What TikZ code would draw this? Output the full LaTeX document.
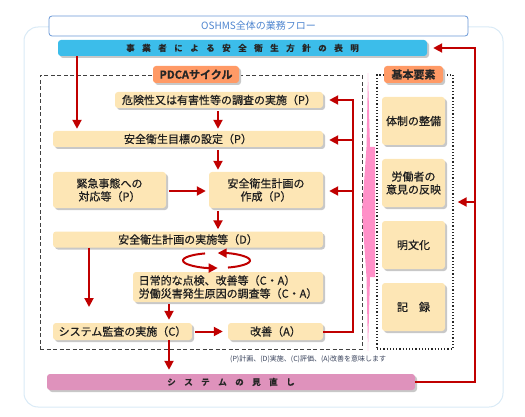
\documentclass[tikz,border=0pt]{standalone}
\usepackage{fontspec}
\setmainfont{Noto Sans CJK JP}
\newfontfamily\jpmed{Noto Sans CJK JP}[FakeBold=0.7]
\newfontfamily\jpbold{Noto Sans CJK JP Bold}[FakeBold=0.6]
\usetikzlibrary{arrows.meta,shadows,calc}
\definecolor{cream}{HTML}{FDE6B5}
\definecolor{darkred}{HTML}{C00000}
\definecolor{barblue}{HTML}{3CBDEA}
\definecolor{barpink}{HTML}{DF92BC}
\definecolor{tagorange}{HTML}{FF9A66}
\definecolor{pinkshape}{HTML}{FF90C8}
\definecolor{titleblue}{HTML}{4F86D0}
\definecolor{frameblue}{HTML}{D9EAF6}
\definecolor{shadowgray}{HTML}{C8C8C8}
\definecolor{notecol}{HTML}{37415A}
\newcommand\gapA{\kern7.5pt}
\newcommand\gapB{\kern8.5pt}
\begin{document}
\begin{tikzpicture}[x=1pt,y=-1pt,
  shad/.style={drop shadow={shadow xshift=2pt,shadow yshift=-2pt,fill=shadowgray,opacity=1}},
  box/.style={shad,fill=cream,rounded corners=3pt,inner sep=0pt,align=center,
    font=\fontsize{11}{13}\jpmed,text=black!88},
  bar/.style={shad,rounded corners=3pt,inner sep=0pt,minimum height=16pt,
    font=\fontsize{8.5}{10}\jpbold,text=black!85},
  tag/.style={shad,fill=tagorange,rounded corners=3pt,inner sep=0pt,minimum height=17pt,
    font=\fontsize{11}{13}\jpbold,text=black!85},
  arr/.style={draw=darkred,line width=2pt,-{Triangle[length=9pt,width=9pt]}},
  titlebox/.style={draw=titleblue!85,fill=white,rounded corners=3pt,line width=0.8pt,
    minimum width=419pt,minimum height=20pt,text=titleblue,font=\fontsize{10}{12}\selectfont},
  dashbox/.style={draw=black!75,dash pattern=on 4pt off 2.5pt,line width=0.8pt,inner sep=0pt},
  dotbox/.style={draw=black!85,dash pattern=on 1.2pt off 2pt,line width=1.3pt,inner sep=0pt},
  note/.style={font=\fontsize{7}{8}\selectfont,text=notecol,inner sep=0pt}
]
\useasboundingbox (0,0) rectangle (525,417);
% outer frame
\draw[frameblue,line width=1pt,rounded corners=14pt] (24,27) rectangle (503,407);
% title
\node[titlebox] (title) at (258.5,26) {OSHMS全体の業務フロー};
% group boxes
\node[dashbox,minimum width=322pt,minimum height=274pt] (pdca) at (201,212) {};
\node[dotbox,minimum width=76pt,minimum height=274pt] (elem) at (415,212) {};
% pink shape
\fill[pinkshape] (368,73) -- (370,147) -- (375,147) -- (375,277) -- (370,277) -- (368,351)
  -- (366.5,277) -- (362,212) -- (366.5,147) -- cycle;
% tags
\node[tag,minimum width=86pt] (pdcatag) at (196,74.5) {PDCAサイクル};
\node[tag,minimum width=59pt] (elemtag) at (413.5,74.5) {基本要素};
% bars
\node[bar,fill=barblue,minimum width=369pt] (bar) at (242.5,48)
  {事\gapA 業\gapA 者\gapA に\gapA よ\gapA る\gapA 安\gapA 全\gapA 衛\gapA 生\gapA 方\gapA 針\gapA の\gapA 表\gapA 明};
\node[bar,fill=barpink,minimum width=368pt] (review) at (231,382)
  {シ\gapB ス\gapB テ\gapB ム\gapB の\gapB 見\gapB 直\gapB し};
% PDCA boxes
\node[box,minimum width=208pt,minimum height=16pt] (rk) at (219,100) {危険性又は有害性等の調査の実施（P）};
\node[box,minimum width=270pt,minimum height=16pt] (goal) at (188,139) {安全衛生目標の設定（P）};
\node[box,minimum width=113pt,minimum height=36pt] (emerg) at (109.5,190) {緊急事態への\\対応等（P）};
\node[box,minimum width=114pt,minimum height=36pt] (plan) at (266,190) {安全衛生計画の\\作成（P）};
\node[box,minimum width=270pt,minimum height=16pt] (impl) at (188,239.5) {安全衛生計画の実施等（D）};
\node[box,minimum width=190pt,minimum height=30pt,align=left] (daily) at (228,287)
  {日常的な点検、改善等（C・A）\\労働災害発生原因の調査等（C・A）};
\node[box,minimum width=139pt,minimum height=17pt] (audit) at (122.5,331.5) {システム監査の実施（C）};
\node[box,minimum width=95pt,minimum height=17pt] (kaizen) at (275.5,331.5) {改善（A）};
% element boxes
\node[box,minimum width=63pt,minimum height=48pt] (e1) at (413.5,121) {体制の整備};
\node[box,minimum width=63pt,minimum height=48pt] (e2) at (413.5,183) {労働者の\\意見の反映};
\node[box,minimum width=63pt,minimum height=48pt] (e3) at (413.5,245) {明文化};
\node[box,minimum width=63pt,minimum height=48pt] (e4) at (413.5,307) {記　録};
% note
\node[note,anchor=west] (note) at (230,359) {(P)計画、(D)実施、(C)評価、(A)改善を意味します};
% column coordinates
\coordinate (cA) at (77,0);
\coordinate (cB) at (218,0);
\coordinate (cD) at (169,0);
\coordinate (cR) at (353,0);
\coordinate (cO) at (475,0);
\coordinate (implend) at (89,307);
\coordinate (ea) at (475,202);
% arrows
\draw[arr,shorten >=2pt] (bar.south -| cA) -- (goal.north -| cA);
\draw[arr,shorten <=3pt,shorten >=2pt] (rk.south -| cB) -- (goal.north -| cB);
\draw[arr,shorten <=3pt,shorten >=2pt] (goal.south -| cB) -- (plan.north -| cB);
\draw[arr,shorten <=3pt,shorten >=3pt] (emerg.east) ++(0,1) coordinate (em1) -- (em1 -| plan.west);
\draw[arr,shorten <=3pt,shorten >=2pt] (plan.south -| cB) -- (impl.north -| cB);
\draw[arr] (impl.south -| implend) -- (implend);
\draw[arr,shorten <=2pt,shorten >=3pt] (daily.south -| cD) -- (audit.north -| cD);
\draw[arr,shorten <=3pt,shorten >=5pt] (audit.east) -- (kaizen.west);
\draw[arr,shorten >=4pt] (audit.south -| cD) -- (review.north -| cD);
\draw[arr,shorten >=6pt] (kaizen.east) -- (kaizen.east -| cR) -- (rk.east -| cR) -- (rk.east);
\draw[arr,shorten >=6pt] ($(goal.east -| cR)+(0,1)$) -- ($(goal.east)+(0,1)$);
\draw[arr,shorten >=6pt] ($(plan.east -| cR)+(0,1)$) -- ($(plan.east)+(0,1)$);
\draw[arr,shorten >=6pt] (review.east) -- (review.east -| cO) -- (bar.east -| cO) -- (bar.east);
\draw[arr,shorten >=4pt] (ea) -- (ea -| elem.east);
% circular arrows
\coordinate (loopc) at (216.5,260.5);
\draw[darkred,line width=2pt,-{Triangle[length=9pt,width=9pt]}]
  (loopc) ++(110:33.5pt and 7.5pt) arc[start angle=110,end angle=272,x radius=33.5pt,y radius=7.5pt];
\draw[darkred,line width=2pt,-{Triangle[length=9pt,width=9pt]}]
  (loopc) ++(290:33.5pt and 7.5pt) arc[start angle=290,end angle=448,x radius=33.5pt,y radius=7.5pt];
\end{tikzpicture}
\end{document}
